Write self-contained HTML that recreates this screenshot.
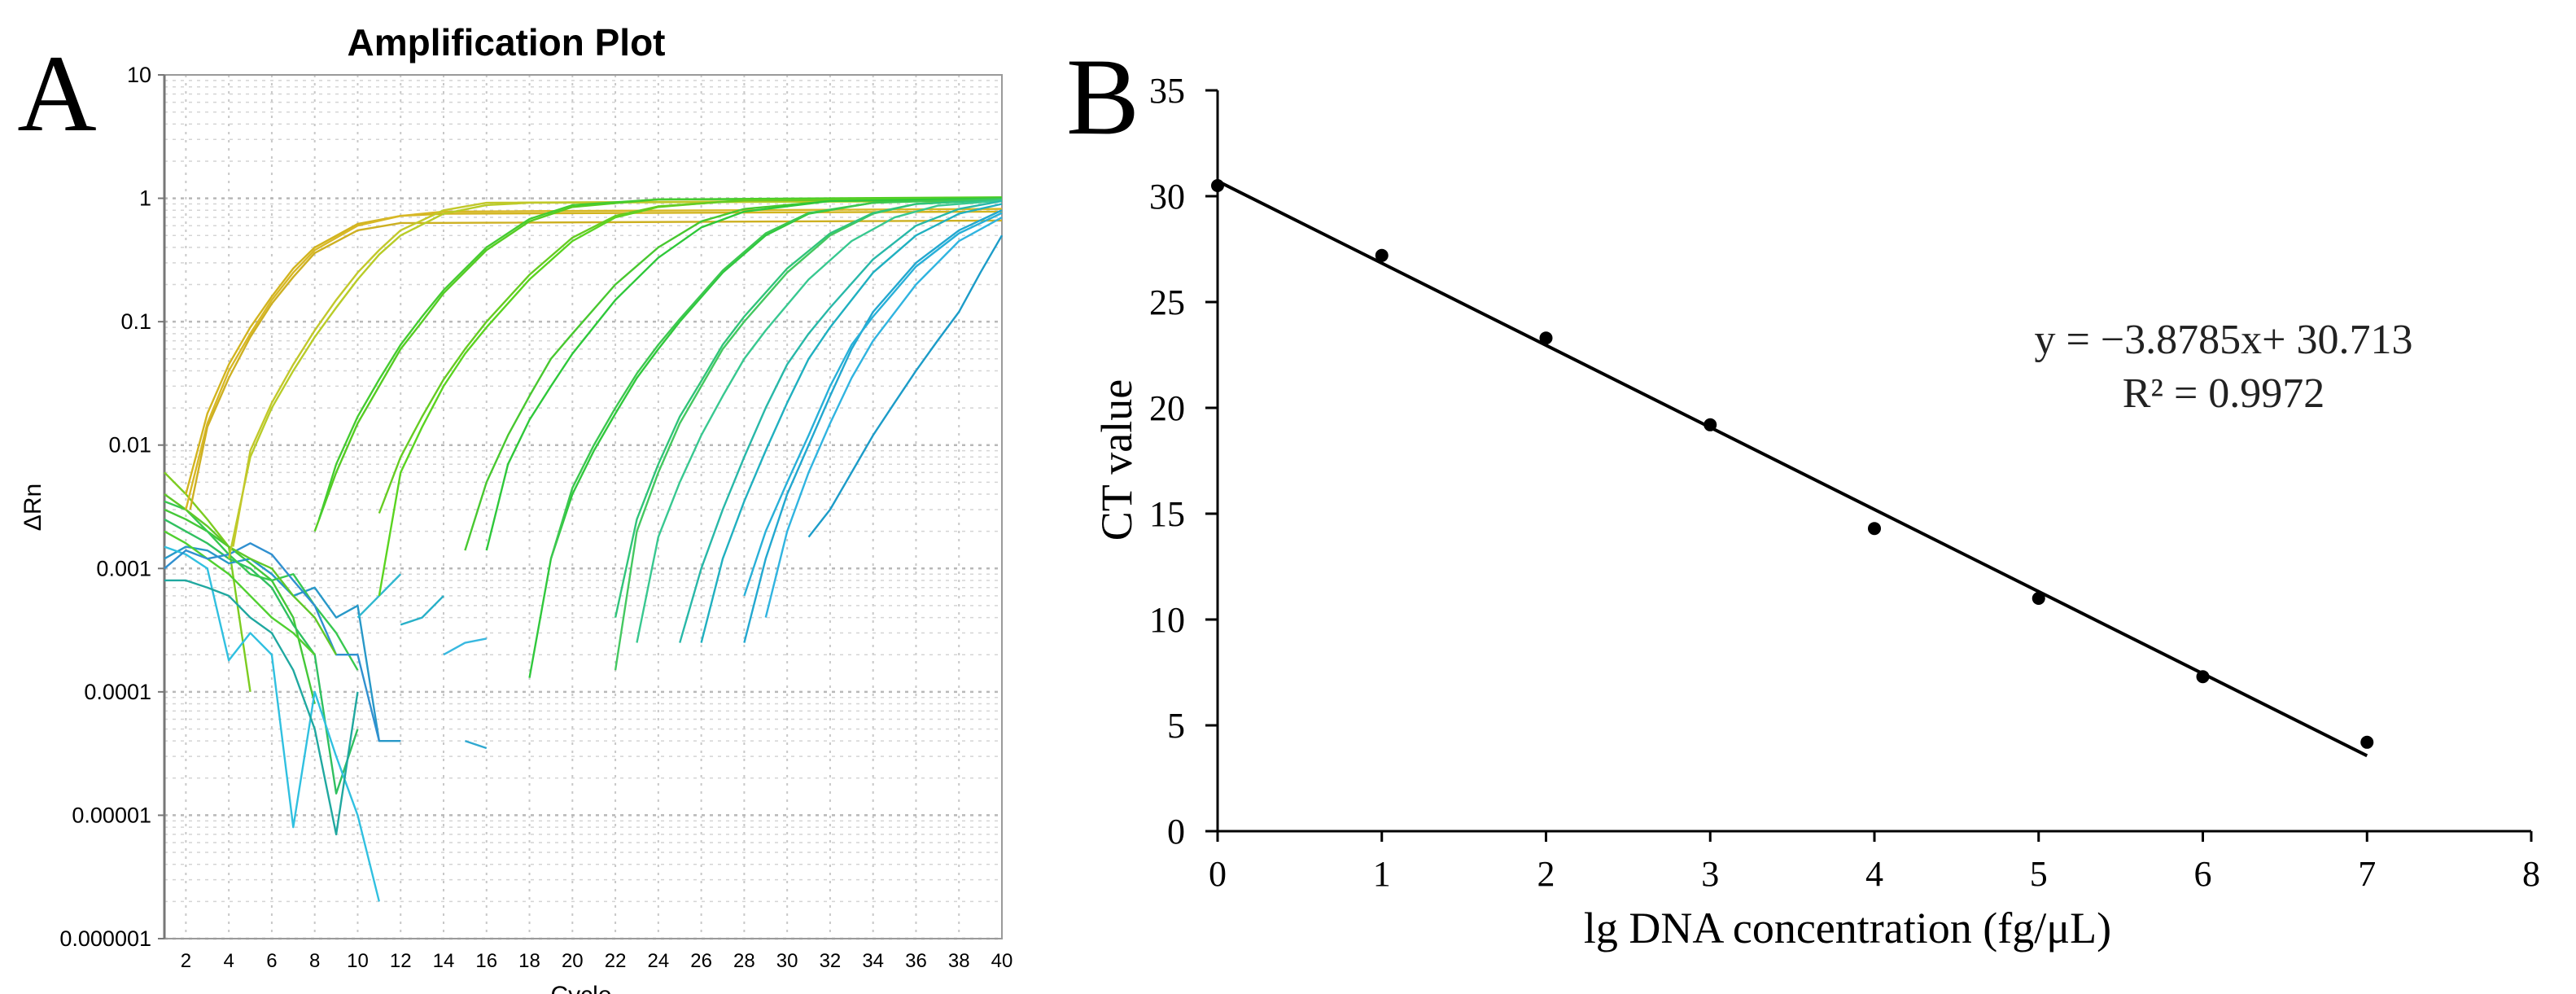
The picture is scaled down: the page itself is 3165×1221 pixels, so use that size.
<!DOCTYPE html>
<html><head><meta charset="utf-8">
<style>
html,body{margin:0;padding:0;background:#fff;}
svg{display:block;}
</style></head>
<body>
<svg id="fig" width="3165" height="1221" viewBox="0 0 3165 1221" xmlns="http://www.w3.org/2000/svg">
  <g id="panelA"></g>
  <g id="panelB"></g>
</svg>
<script>
// ---------- Panel A data ----------
const cycleTicks = [2,4,6,8,10,12,14,16,18,20,22,24,26,28,30,32,34,36,38,40];
const rnTickLabels = ["10","1","0.1","0.01","0.001","0.0001","0.00001","0.000001"];
const rnTickValues = [10,1,0.1,0.01,0.001,0.0001,0.00001,0.000001];
const curveColors = ["#d2b41e","#d8b826","#cdb022","#b8cc28","#c2c82a","#55cc22","#44cc30","#5ad420","#66cc22","#48c830","#2ec83a","#30c83c","#3cc850","#44c860","#30c47a","#38c890","#28b8a8","#20b0c0","#22a8d0","#28b0d8","#30b4e0","#1c9cc8"];
const curvePoints = [
 [[2,0.004],[3,0.018],[4,0.045],[5,0.09],[6,0.16],[7,0.27],[8,0.4],[10,0.62],[12,0.72],[14,0.75],[40,0.78]],
 [[2,0.003],[3,0.015],[4,0.04],[5,0.08],[6,0.15],[7,0.25],[8,0.38],[10,0.6],[12,0.72],[14,0.78],[40,0.82]],
 [[2.2,0.003],[3,0.014],[4,0.035],[5,0.075],[6,0.14],[7,0.23],[8,0.36],[10,0.55],[12,0.63],[40,0.66]],
 [[4,0.0012],[5,0.008],[6,0.02],[7,0.04],[8,0.075],[9,0.13],[10,0.22],[11,0.35],[12,0.5],[14,0.75],[16,0.88],[18,0.92],[40,0.95]],
 [[4.2,0.0015],[5,0.009],[6,0.022],[7,0.045],[8,0.085],[9,0.15],[10,0.25],[11,0.38],[12,0.55],[14,0.8],[16,0.92],[40,0.97]],
 [[8,0.002],[9,0.006],[10,0.015],[11,0.03],[12,0.06],[13,0.1],[14,0.17],[16,0.38],[18,0.65],[20,0.85],[24,0.98],[40,1.02]],
 [[8.2,0.0025],[9,0.007],[10,0.017],[11,0.034],[12,0.065],[13,0.11],[14,0.18],[16,0.4],[18,0.68],[20,0.88],[24,0.98],[40,1.0]],
 [[11,0.0006],[12,0.006],[13,0.014],[14,0.03],[15,0.055],[16,0.09],[18,0.22],[20,0.45],[22,0.7],[24,0.85],[28,0.97],[40,1.0]],
 [[11,0.0028],[12,0.008],[13,0.017],[14,0.034],[15,0.06],[16,0.1],[18,0.24],[20,0.48],[22,0.72],[24,0.86],[28,0.96],[40,0.98]],
 [[15,0.0014],[16,0.005],[17,0.012],[18,0.025],[19,0.05],[20,0.08],[22,0.2],[24,0.4],[26,0.65],[28,0.82],[32,0.95],[40,0.98]],
 [[16,0.0014],[17,0.007],[18,0.016],[19,0.03],[20,0.055],[22,0.15],[24,0.33],[26,0.58],[28,0.78],[32,0.95],[40,1.0]],
 [[18,0.00013],[19,0.0012],[20,0.004],[21,0.009],[22,0.018],[23,0.035],[24,0.06],[25,0.1],[27,0.25],[29,0.5],[31,0.75],[34,0.92],[40,1.0]],
 [[19,0.0012],[20,0.0045],[21,0.01],[22,0.02],[23,0.038],[24,0.065],[25,0.105],[27,0.26],[29,0.52],[31,0.76],[34,0.92],[40,0.99]],
 [[22,0.00015],[23,0.002],[24,0.006],[25,0.015],[26,0.03],[27,0.06],[28,0.1],[30,0.25],[32,0.5],[34,0.75],[36,0.9],[40,0.98]],
 [[22,0.0004],[23,0.0025],[24,0.007],[25,0.017],[26,0.033],[27,0.065],[28,0.11],[30,0.27],[32,0.52],[34,0.76],[36,0.9],[40,0.97]],
 [[23,0.00025],[24,0.0018],[25,0.005],[26,0.012],[27,0.025],[28,0.05],[29,0.085],[31,0.22],[33,0.45],[35,0.7],[37,0.87],[40,0.96]],
 [[25,0.00025],[26,0.001],[27,0.003],[28,0.008],[29,0.02],[30,0.045],[31,0.08],[32,0.13],[34,0.32],[36,0.6],[38,0.82],[40,0.95]],
 [[26,0.00025],[27,0.0012],[28,0.0035],[29,0.009],[30,0.022],[31,0.05],[32,0.09],[34,0.25],[36,0.5],[38,0.75],[40,0.9]],
 [[28,0.00025],[29,0.0012],[30,0.004],[31,0.01],[32,0.025],[33,0.06],[34,0.12],[36,0.3],[38,0.55],[40,0.8]],
 [[28,0.0006],[29,0.002],[30,0.005],[31,0.012],[32,0.03],[33,0.065],[34,0.11],[36,0.28],[38,0.52],[40,0.76]],
 [[29,0.0004],[30,0.002],[31,0.006],[32,0.015],[33,0.035],[34,0.07],[36,0.2],[38,0.45],[40,0.7]],
 [[31,0.0018],[32,0.003],[33,0.006],[34,0.012],[35,0.022],[36,0.04],[37,0.07],[38,0.12],[39,0.25],[40,0.5]]
];
const noiseColors = ["#7ccc20","#44c838","#30c060","#2898c8","#30c0e0","#20a8a0","#50d030","#38c850","#3090d0","#60c828","#30b8d0","#28b0c8","#38b8e0","#30a8d0"];
const noisePoints = [
 [[1,0.006],[2,0.004],[3,0.0025],[4,0.0015],[5,0.0001]],
 [[1,0.003],[2,0.0025],[3,0.002],[4,0.0015],[5,0.0011],[6,0.0008],[7,0.0004],[8,0.00008]],
 [[1,0.0025],[2,0.002],[3,0.0016],[4,0.0012],[5,0.001],[6,0.0007],[7,0.00035],[8,0.0002],[9,0.000015],[10,0.00005]],
 [[1,0.0012],[2,0.0015],[3,0.0014],[4,0.0011],[5,0.0012],[6,0.0009],[7,0.0006],[8,0.0007],[9,0.0004],[10,0.0005],[11,0.00004],[12,0.00004]],
 [[1,0.0015],[2,0.0013],[3,0.001],[4,0.00018],[5,0.0003],[6,0.0002],[7,0.000008],[8,0.0001],[9,0.00003],[10,0.00001],[11,0.000002]],
 [[1,0.0008],[2,0.0008],[3,0.0007],[4,0.0006],[5,0.0004],[6,0.0003],[7,0.00015],[8,0.00005],[9,0.000007],[10,0.0001]],
 [[1,0.002],[2,0.0016],[3,0.0012],[4,0.0009],[5,0.0006],[6,0.0004],[7,0.0003],[8,0.0002]],
 [[1,0.0035],[2,0.003],[3,0.002],[4,0.0013],[5,0.0009],[6,0.0008],[7,0.0009],[8,0.0005],[9,0.0003],[10,0.00015]],
 [[1,0.001],[2,0.0014],[3,0.0012],[4,0.0013],[5,0.0016],[6,0.0013],[7,0.0008],[8,0.0005],[9,0.0002],[10,0.0002],[11,0.00004]],
 [[1,0.004],[2,0.003],[3,0.0022],[4,0.0015],[5,0.0012],[6,0.001],[7,0.0006],[8,0.0004],[9,0.0002]],
 [[10,0.0004],[11,0.0006],[12,0.0009]],
 [[12,0.00035],[13,0.0004],[14,0.0006]],
 [[14,0.0002],[15,0.00025],[16,0.00027]],
 [[15,0.00004],[16,0.000035]]
];
// ---------- Panel B data ----------
const concValues = [0,1,2,3,4,5,6,7];
const ctValues = [30.5,27.2,23.3,19.2,14.3,11.0,7.3,4.2];
const fitSlope = -3.8785;
const fitIntercept = 30.713;
const bXTicks = [0,1,2,3,4,5,6,7,8];
const bYTicks = [0,5,10,15,20,25,30,35];

const NS = "http://www.w3.org/2000/svg";
function mk(tag, attrs, parent){
  const e = document.createElementNS(NS, tag);
  for (const k in attrs) e.setAttribute(k, attrs[k]);
  parent.appendChild(e); return e;
}
// ---------- Panel A ----------
const A = document.getElementById('panelA');
const axL=202, axR=1231, axT=92, axB=1153;
const ax = c => axL + (c-1)*(axR-axL)/39;
const ay = v => axT + (1-Math.log10(v))*(axB-axT)/7;

let t = mk('text',{x:70,y:160,'font-family':'Liberation Serif, serif','font-size':135,'text-anchor':'middle'},A);
t.textContent='A';


t = mk('text',{x:622,y:68,'font-family':'Liberation Sans, sans-serif','font-size':46,'font-weight':'bold','text-anchor':'middle'},A);
t.textContent='Amplification Plot';



const grid = mk('g',{},A);


for (let c=2;c<=40;c+=2){
  const l=mk('line',{x1:ax(c),x2:ax(c),y1:axT,y2:axB,stroke:'#c8c8c8','stroke-width':2,'stroke-dasharray':'3,7'},grid);
  
  
}
for (let d=-6; d<1; d++){
  for (let m=1;m<10;m++){
    const v=m*Math.pow(10,d);
    const l=mk('line',{x1:axL,x2:axR,y1:ay(v),y2:ay(v),stroke:m==1?'#b8b8b8':'#d4d4d4','stroke-width':m==1?2.5:1.5,'stroke-dasharray':'4,6'},grid);
    
    
  }
}
let fr = mk('rect',{x:axL,y:axT,width:axR-axL,height:axB-axT,fill:'none',stroke:'#9a9a9a','stroke-width':2},A);


mk('line',{x1:axL,x2:axL,y1:axT,y2:axB,stroke:'#777','stroke-width':3},A);

const yt = mk('g',{'font-family':'Liberation Sans, sans-serif','font-size':27,'text-anchor':'end'},A);


rnTickValues.forEach((v,i)=>{
  const e=mk('text',{x:axL-16,y:ay(v)+9},yt); e.textContent=rnTickLabels[i];
  
  
  mk('line',{x1:axL-8,x2:axL,y1:ay(v),y2:ay(v),stroke:'#777','stroke-width':2},yt);
});
const xt = mk('g',{'font-family':'Liberation Sans, sans-serif','font-size':24,'text-anchor':'middle'},A);


cycleTicks.forEach(c=>{
  const e=mk('text',{x:ax(c),y:axB+35},xt); e.textContent=String(c);
  
  
});
t = mk('text',{x:0,y:0,'font-family':'Liberation Sans, sans-serif','font-size':30,'text-anchor':'middle',transform:'translate(50,623) rotate(-90)'},A);
t.textContent='ΔRn';


t = mk('text',{x:714,y:1232,'font-family':'Liberation Sans, sans-serif','font-size':30,'text-anchor':'middle'},A);
t.textContent='Cycle';



const series = mk('g',{fill:'none','stroke-width':2.4,'stroke-linejoin':'round'},A);


noisePoints.forEach((pts,i)=>{
  const p=mk('polyline',{points:pts.map(q=>ax(q[0])+','+ay(q[1])).join(' '),stroke:noiseColors[i%noiseColors.length]},series);
  
  
});
curvePoints.forEach((pts,i)=>{
  const p=mk('polyline',{points:pts.map(q=>ax(q[0])+','+ay(q[1])).join(' '),stroke:curveColors[i%curveColors.length]},series);
  
  
});

// ---------- Panel B ----------
const B = document.getElementById('panelB');
const bx0=1496, bxUnit=201.75, by0=1021, byUnit=26.0;
const bx = v => bx0 + v*bxUnit;
const by = v => by0 - v*byUnit;
t = mk('text',{x:1355,y:164,'font-family':'Liberation Serif, serif','font-size':135,'text-anchor':'middle'},B);
t.textContent='B';


const bAx = mk('g',{stroke:'#000','stroke-width':3},B);


mk('line',{x1:bx0,x2:bx0,y1:by(35),y2:by0},bAx);
mk('line',{x1:bx0,x2:bx(8),y1:by0,y2:by0},bAx);
const bTk = mk('g',{'font-family':'Liberation Serif, serif','font-size':44,fill:'#000'},B);


bYTicks.forEach(v=>{
  mk('line',{x1:bx0-15,x2:bx0,y1:by(v),y2:by(v),stroke:'#000','stroke-width':3},bTk);
  const e=mk('text',{x:bx0-40,y:by(v)+15,'text-anchor':'end'},bTk); e.textContent=String(v);
  
  
});
bXTicks.forEach(v=>{
  mk('line',{x1:bx(v),x2:bx(v),y1:by0,y2:by0+13,stroke:'#000','stroke-width':3},bTk);
  const e=mk('text',{x:bx(v),y:by0+67,'text-anchor':'middle'},bTk); e.textContent=String(v);
  
  
});
t = mk('text',{x:0,y:0,'font-family':'Liberation Serif, serif','font-size':54,'text-anchor':'middle',transform:'translate(1390,565) rotate(-90)'},B);
t.textContent='CT value';


t = mk('text',{x:2270,y:1158,'font-family':'Liberation Serif, serif','font-size':54,'text-anchor':'middle'},B);
t.textContent='lg DNA concentration (fg/μL)';


const xMin = concValues[0], xMax = concValues[concValues.length-1];
const fit = mk('line',{x1:bx(xMin),y1:by(fitIntercept+fitSlope*xMin),x2:bx(xMax),y2:by(fitIntercept+fitSlope*xMax),stroke:'#000','stroke-width':4},B);


const dots = mk('g',{fill:'#000'},B);


concValues.forEach((c,i)=>{
  const d=mk('circle',{cx:bx(c),cy:by(ctValues[i]),r:8},dots);
  
  
});
t = mk('text',{x:2732,y:434,'font-family':'Liberation Serif, serif','font-size':52,'text-anchor':'middle',fill:'#222'},B);
t.textContent='y = −3.8785x+ 30.713';


t = mk('text',{x:2732,y:500,'font-family':'Liberation Serif, serif','font-size':52,'text-anchor':'middle',fill:'#222'},B);
t.textContent='R² = 0.9972';


</script>
</body></html>
